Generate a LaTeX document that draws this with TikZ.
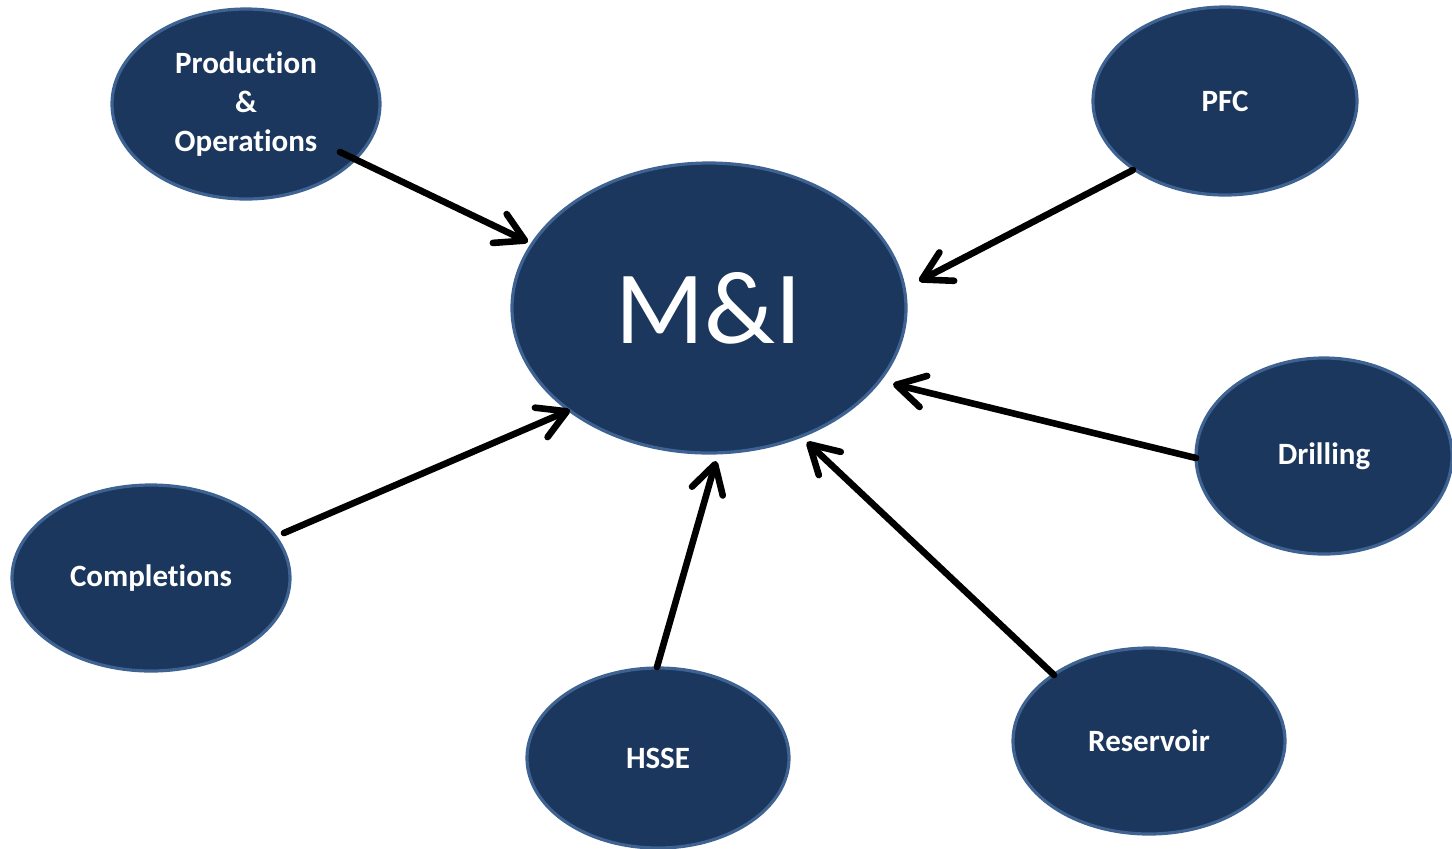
\documentclass[tikz,border=0pt]{standalone}
\usepackage{fontspec}
\setmainfont{Carlito}[Ligatures=NoCommon]
\usetikzlibrary{shapes.geometric,arrows.meta,calc}
\definecolor{navy}{RGB}{27,55,93}
\definecolor{rim}{RGB}{62,98,145}
\tikzset{
  bubble/.style={ellipse, fill=navy, draw=rim, line width=1.6pt, inner sep=0pt,
    text=white, align=center, font=\bfseries\fontsize{15.5}{19.3}\selectfont},
  arr/.style={draw=black, line width=3.3pt, line cap=round,
    -{Straight Barb[length=14pt,width=16pt,line cap=round,line join=round]}}
}
\begin{document}
\begin{tikzpicture}[x=0.5pt,y=-0.5pt]
\useasboundingbox (0,0) rectangle (1452,848);
\node[bubble, minimum width=134pt, minimum height=95pt] (po) at (246,104) {Production\\\&\\Operations};
\node[bubble, minimum width=132pt, minimum height=94pt] (pfc) at (1225,101) {PFC};
\node[bubble, minimum width=197pt, minimum height=145pt, font=\fontsize{52}{60}\selectfont] (mi) at (709,308) {M\&I};
\node[bubble, minimum width=128pt, minimum height=98pt] (dr) at (1324,456) {Drilling};
\node[bubble, minimum width=139pt, minimum height=93pt] (co) at (151,578) {Completions};
\node[bubble, minimum width=131pt, minimum height=90pt] (hs) at (658,758) {HSSE};
\node[bubble, minimum width=136pt, minimum height=93pt] (rs) at (1149,741) {Reservoir};
\draw[arr] ($(po)+(94,48)$) -- ($(mi)+(-181,-66)$);
\draw[arr] ($(pfc)+(-92,69)$) -- ($(mi)+(210,-27)$);
\draw[arr] ($(dr)+(-128,2)$) -- ($(mi)+(184,76)$);
\draw[arr] ($(co)+(133,-45)$) -- ($(mi)+(-139,102)$);
\draw[arr] ($(hs)+(-1,-91)$) -- ($(mi)+(7,153)$);
\draw[arr] ($(rs)+(-95,-66)$) -- ($(mi)+(98,134)$);
\end{tikzpicture}
\end{document}
